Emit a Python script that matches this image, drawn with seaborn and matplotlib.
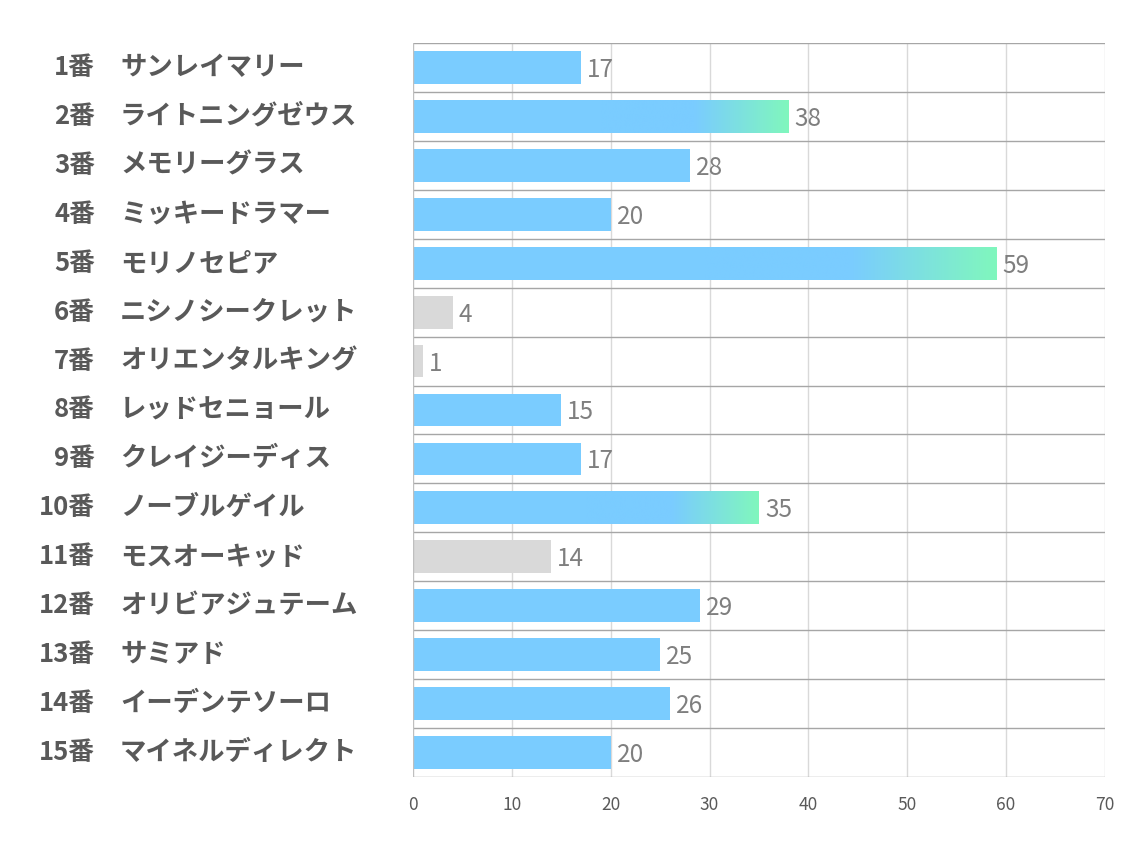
import numpy as np
import pandas as pd
import matplotlib
matplotlib.use("Agg")
import matplotlib.pyplot as plt
import seaborn as sns
from matplotlib.colors import LinearSegmentedColormap
import matplotlib.transforms as mtransforms

# data
numbers = [f"{i}番" for i in range(1, 16)]
names = ["サンレイマリー", "ライトニングゼウス", "メモリーグラス", "ミッキードラマー",
         "モリノセピア", "ニシノシークレット", "オリエンタルキング", "レッドセニョール",
         "クレイジーディス", "ノーブルゲイル", "モスオーキッド", "オリビアジュテーム",
         "サミアド", "イーデンテソーロ", "マイネルディレクト"]
values = [17, 38, 28, 20, 59, 4, 1, 15, 17, 35, 14, 29, 25, 26, 20]
# bar style: b = blue, g = gray, x = blue with green gradient
kinds = ["b", "x", "b", "b", "x", "g", "g", "b", "b", "x", "g", "b", "b", "b", "b"]

BLUE = "#7accff"
GREEN = "#80f7bd"
GRAY = "#d9d9d9"

sns.set_style("white")
plt.rcParams["font.family"] = ["Noto Sans CJK JP", "DejaVu Sans"]

df = pd.DataFrame({"horse": names, "value": values, "kind": kinds})
colors = {"b": BLUE, "x": BLUE, "g": GRAY}

fig = plt.figure(figsize=(11.34, 8.5), dpi=100)
ax = fig.add_axes([0.3642, 0.0859, 0.6102, 0.8635])

sns.barplot(data=df, y="horse", x="value", hue="horse", orient="h",
            palette=[colors[k] for k in kinds], width=0.67, legend=False,
            saturation=1, linewidth=0, ax=ax, zorder=2)

# gradient overlay on highlighted bars
cmap = LinearSegmentedColormap.from_list("bg", [BLUE, BLUE, GREEN])
grad = np.linspace(0, 1, 256).reshape(1, -1)
for patch, kind, v in zip(ax.patches, kinds, values):
    if kind != "x":
        continue
    y0 = patch.get_y()
    h = patch.get_height()
    start = v * 0.5
    ax.imshow(grad, cmap=cmap, aspect="auto", zorder=3,
              extent=[start, v, y0 + h, y0], interpolation="bilinear")
ax.set_xlim(0, 70)
ax.set_ylim(len(names) - 0.5, -0.5)

# grid
for x in range(10, 71, 10):
    ax.axvline(x, color="#d9d9d9", lw=1, zorder=1)
for y in np.arange(-0.5, len(names), 1.0):
    ax.axhline(y, color="#a6a6a6", lw=1, zorder=4)
ax.axvline(0, color="#bfbfbf", lw=1, zorder=4)

for s in ax.spines.values():
    s.set_visible(False)

# value labels
for i, v in enumerate(values):
    ax.text(v + 0.6, i + 0.05, str(v), va="center", ha="left", fontsize=17.5,
            color="#7f7f7f", zorder=5)

# y labels
ax.set_yticks([])
ax.set_ylabel("")
ax.set_xlabel("")
trans = mtransforms.blended_transform_factory(ax.transAxes, ax.transData)
for i, (n, name) in enumerate(zip(numbers, names)):
    ax.text(-0.4595, i, n, transform=trans, ha="right", va="center",
            fontsize=18.5, fontweight="bold", color="#595959")
    ax.text(-0.4234, i, name, transform=trans, ha="left", va="center",
            fontsize=19, fontweight="bold", color="#595959")

ax.set_xticks(range(0, 71, 10))
ax.tick_params(axis="x", length=0, pad=14, labelsize=12.5, labelcolor="#595959")

fig.savefig("out.png", dpi=100)
